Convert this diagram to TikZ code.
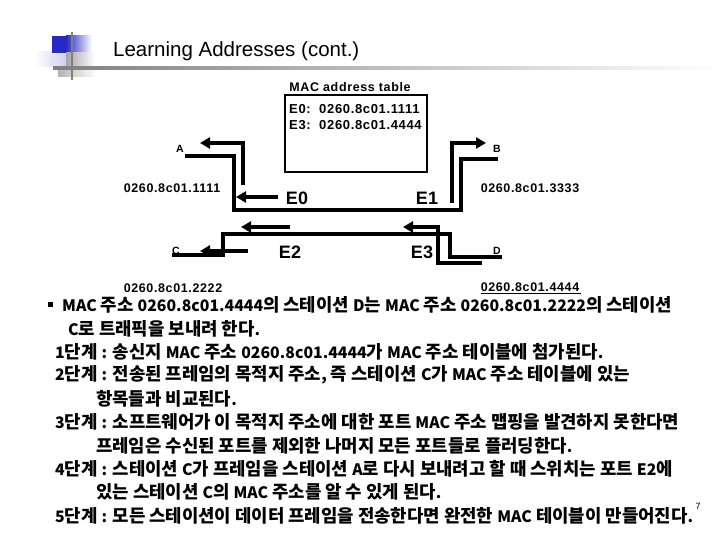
\documentclass[tikz,border=0pt]{standalone}
\usepackage{fontspec}
\setmainfont{Liberation Sans}
\newfontfamily\kr{Noto Sans CJK KR}
\newfontfamily\lbl{Liberation Sans}[LetterSpace=5]
\usetikzlibrary{arrows.meta}
\definecolor{logoblue}{RGB}{40,40,200}
\definecolor{logolight}{RGB}{200,200,240}
\newcommand\latn[1]{{\fontsize{15.8}{18}\selectfont #1}}
\tikzset{
  wire/.style={line width=4.2pt, line join=miter},
  arr/.style={line width=4.2pt, -{Triangle[length=10pt,width=11pt]}},
  kt/.style={anchor=west, inner sep=0pt, font=\kr\bfseries\fontsize{17.8}{19}\selectfont},
  addr/.style={inner sep=0pt, font=\lbl\bfseries\fontsize{12.5}{14}\selectfont},
  port/.style={inner sep=0pt, font=\bfseries\fontsize{18}{20}\selectfont},
  stn/.style={inner sep=0pt, font=\bfseries\fontsize{10.5}{12}\selectfont},
}
\begin{document}
\begin{tikzpicture}[x=1pt,y=-1pt]
\useasboundingbox (0,0) rectangle (720,540);
% logo
\shade[left color=white, right color=logolight] (35,52) rectangle (70,67);
\fill[logoblue] (52,36) rectangle (66,53);
\shade[left color=logoblue, right color=white] (66,36) rectangle (92,53);
\shade[left color=gray!70, right color=white] (66,53) rectangle (95,67);
\shade[left color=gray!60, right color=white] (58,69) rectangle (96,77);
\shade[left color=gray, right color=white] (53,66.8) rectangle (720,69.6);
\draw[gray, line width=2.5pt] (72,32) -- (72,80);
\node[anchor=west, inner sep=0pt, font=\fontsize{20.5}{22}\selectfont] (title) at (113,51) {Learning Addresses (cont.)};

% MAC table
\node[addr, font=\lbl\bfseries\fontsize{12.5}{14}\selectfont] (mtt) at (350,87) {MAC address table};
\draw[line width=2.8pt] (285,95) rectangle (427,172);
\node[addr, anchor=west, font=\lbl\bfseries\fontsize{13}{15}\selectfont] (t1) at (289,109) {E0:\ \ 0260.8c01.1111};
\node[addr, anchor=west, font=\lbl\bfseries\fontsize{13}{15}\selectfont] (t2) at (289,125) {E3:\ \ 0260.8c01.4444};

% station labels
\node[stn] (A) at (180,149) {A};
\node[stn] (B) at (497,149) {B};
\node[stn] (C) at (176,251) {C};
\node[stn] (D) at (497,251) {D};
\node[port] (E0) at (297,198) {E0};
\node[port] (E1) at (427,198) {E1};
\node[port] (E2) at (290,252) {E2};
\node[port] (E3) at (422,252) {E3};
\node[addr] (aA) at (172,188) {0260.8c01.1111};
\node[addr] (aB) at (530,188) {0260.8c01.3333};
\node[addr] (aC) at (173,288) {0260.8c01.2222};
\node[addr] (aD) at (530,287) {0260.8c01.4444};
\draw[line width=1pt] (aD.south west) ++(0,2) -- ++(100,0);

% wires
\draw[wire] (185,156) -- (234,156) -- (234,210) -- (461,210) -- (461,159) -- (498,159);
\draw[wire] (172,255) -- (223,255) -- (223,234) -- (450,234) -- (450,257) -- (502,257);
% arrows
\draw[arr] (243,185) -- (243,143) -- (200,143);
\draw[arr] (278,197) -- (236,197);
\draw[arr] (452,203) -- (452,143) -- (486,143);
\draw[arr] (482,263) -- (438,263) -- (438,227) -- (403,227);
\draw[arr] (290,227) -- (241,227);
\draw[arr] (248,251) -- (200,251);

% text
\fill (48,302) rectangle (53,307);
\node[kt] (l1) at (62,305) {\latn{MAC} 주소 \latn{0260.8c01.4444}의 스테이션 \latn{D}는 \latn{MAC} 주소 \latn{0260.8c01.2222}의 스테이션};
\node[kt] (l2) at (68,328.4) {\latn{C}로 트래픽을 보내려 한다\latn{.}};
\node[kt] (l3) at (55,351.8) {\latn{1}단계 \latn{:} 송신지 \latn{MAC} 주소 \latn{0260.8c01.4444}가 \latn{MAC} 주소 테이블에 첨가된다\latn{.}};
\node[kt] (l4) at (55,375.2) {\latn{2}단계 \latn{:} 전송된 프레임의 목적지 주소\latn{,} 즉 스테이션 \latn{C}가 \latn{MAC} 주소 테이블에 있는};
\node[kt] (l5) at (96,398.6) {항목들과 비교된다\latn{.}};
\node[kt] (l6) at (55,422) {\latn{3}단계 \latn{:} 소프트웨어가 이 목적지 주소에 대한 포트 \latn{MAC} 주소 맵핑을 발견하지 못한다면};
\node[kt] (l7) at (96,445.4) {프레임은 수신된 포트를 제외한 나머지 모든 포트들로 플러딩한다\latn{.}};
\node[kt] (l8) at (55,468.8) {\latn{4}단계 \latn{:} 스테이션 \latn{C}가 프레임을 스테이션 \latn{A}로 다시 보내려고 할 때 스위치는 포트 \latn{E2}에};
\node[kt] (l9) at (96,492.2) {있는 스테이션 \latn{C}의 \latn{MAC} 주소를 알 수 있게 된다\latn{.}};
\node[kt] (l10) at (55,515.6) {\latn{5}단계 \latn{:} 모든 스테이션이 데이터 프레임을 전송한다면 완전한 \latn{MAC} 테이블이 만들어진다\latn{.}};
\node[inner sep=0pt, font=\fontsize{9}{10}\selectfont] (pg) at (698,506) {7};
\end{tikzpicture}
\end{document}
